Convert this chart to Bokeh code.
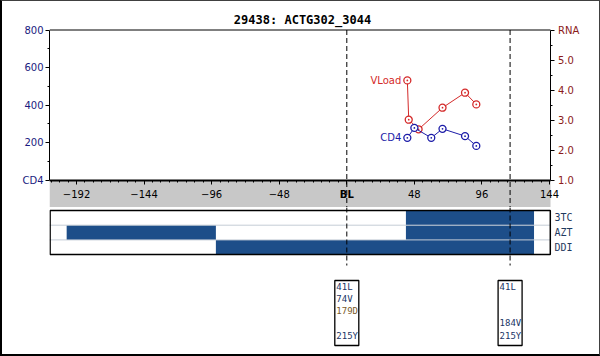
from bokeh.plotting import figure
from bokeh.layouts import column
from bokeh.models import (Range1d, LinearAxis, FixedTicker, BoxAnnotation,
                          ColumnDataSource, PrintfTickFormatter)
from bokeh.embed import file_html
from bokeh.resources import INLINE
from bokeh.core.properties import value

# ---------------- data ----------------
title_text = "29438: ACTG302_3044"
cd4_weeks = [43, 48, 60, 68, 84, 92]
cd4_values = [225, 278, 225, 273, 234, 182]
vl_weeks = [43, 44, 51, 68, 84, 92]
vl_values = [4.32, 3.01, 2.69, 3.41, 3.91, 3.52]
x_ticks = [-192, -144, -96, -48, 0, 48, 96, 144]
x_minor = list(range(-210, 145, 6))
cd4_ticks = [0, 200, 400, 600, 800]
cd4_minor = [100, 300, 500, 700]
rna_ticks = [1, 2, 3, 4, 5, 6]
rna_minor = [1.5, 2.5, 3.5, 4.5, 5.5]
genotype_weeks = [0, 116]
drug_names = ["3TC", "AZT", "DDI"]
bar_drug = ["3TC", "AZT", "AZT", "DDI"]
bar_start = [42, -199, 42, -93]
bar_end = [133, -93, 133, 133]
mut_week = [0, 0, 0, 0, 116, 116, 116]
mut_text = ["41L", "74V", "179D", "215Y", "41L", "184V", "215Y"]
mut_slot = [0, 1, 2, 4, 0, 3, 4]
mut_color = ["#1a3566", "#1a3566", "#7a5a2a", "#1a3566", "#1a3566", "#1a3566", "#1a3566"]

# ---------------- styling / geometry ----------------
BLUE = "#1c1ca8"
RED = "#d42a2a"
NAVY = "#1a1a80"
DRED = "#8b1a1a"
BAR = "#1d4e89"
LBL = "#1f3a5f"
GRAY = "#c8c8c8"
FONT = "DejaVu Sans"
MONO = "DejaVu Sans Mono"

PX0 = 346.3      # page x of week 0
S = 1.4077       # px per week
PLOT_L, PLOT_R = 49, 550      # visible chart box (page px)
FRAME_R = 590                 # drawing frame extends right so edge labels fit
FIG_W = 597
OFF_X = 2        # page x of figure left edge (border)
TOP_Y = 1        # page y of figure top (border)
BL_ = PLOT_L - OFF_X
BR_ = FIG_W - (FRAME_R - OFF_X)


def wk(px):
    return (px - PX0) / S


xr = Range1d(wk(PLOT_L), wk(FRAME_R))

# ---------------- main chart ----------------
cd4_px = 0.1875
Y0_PX = 179.5
yA0 = -(207 - Y0_PX) / cd4_px
yA1 = (Y0_PX - TOP_Y) / cd4_px
rA0 = 1 - (207 - Y0_PX) / 30.0
rA1 = 1 + (Y0_PX - TOP_Y) / 30.0


def cd4_at(py):
    return (Y0_PX - py) / cd4_px


p = figure(width=FIG_W, height=206, x_range=xr,
           y_range=Range1d(yA0, yA1), output_backend="svg", toolbar_location=None,
           x_axis_location=None, y_axis_location=None,
           min_border_left=BL_, min_border_right=BR_, min_border_top=0, min_border_bottom=0)
p.extra_y_ranges = {"rna": Range1d(rA0, rA1)}
p.outline_line_color = None
p.grid.visible = False

band = BoxAnnotation(top=-5, right=wk(PLOT_R), fill_color=GRAY, fill_alpha=1, line_alpha=0,
                     level="underlay")
p.add_layout(band)

yl = LinearAxis(ticker=FixedTicker(ticks=cd4_ticks, minor_ticks=cd4_minor), bounds=(0, 800),
                major_label_overrides={0: "CD4"})
yr = LinearAxis(y_range_name="rna", ticker=FixedTicker(ticks=rna_ticks, minor_ticks=rna_minor),
                bounds=(1, 6), formatter=PrintfTickFormatter(format="%.1f"),
                major_label_overrides={6: "RNA"}, fixed_location=wk(PLOT_R - 0.5))
xa = LinearAxis(ticker=FixedTicker(ticks=x_ticks, minor_ticks=x_minor), fixed_location=0,
                bounds=(wk(PLOT_L), wk(PLOT_R)), major_label_overrides={0: ""})
for ax, col in ((yl, NAVY), (yr, DRED), (xa, "black")):
    ax.major_label_text_color = col
    ax.major_label_text_font = FONT
    ax.major_label_text_font_size = "10px"
    ax.axis_line_color = "black"
    ax.major_tick_line_color = "black"
    ax.minor_tick_line_color = "black"
    ax.major_tick_in = 0
    ax.minor_tick_in = 0
    ax.major_tick_out = 4
    ax.minor_tick_out = 2
yl.major_label_standoff = 2
yr.major_label_standoff = 4
xa.axis_line_width = 2
xa.major_label_standoff = 6
p.add_layout(yl, "left")
p.add_layout(yr, "right")
p.add_layout(xa, "below")

# top edge of the chart box
p.segment(x0=[wk(PLOT_L)], x1=[wk(PLOT_R)], y0=[800], y1=[800], line_color="black",
          line_width=1)
# genotype (dashed) lines
p.segment(x0=genotype_weeks, x1=genotype_weeks, y0=[800] * 2, y1=[yA0] * 2,
          line_color="black", line_width=1, line_dash="5 3")

# title
p.text(x=[wk(302)], y=[cd4_at(19)], text=[title_text], text_align="center",
       text_baseline="middle", text_font=value(MONO), text_font_size="12px",
       text_font_style="bold", text_color="black")

p.text(x=[0], y=[cd4_at(193.5)], text=["BL"], text_align="center",
       text_baseline="middle", text_font=value(FONT), text_font_size="10px",
       text_font_style="bold", text_color="black")

cd4_src = ColumnDataSource(dict(x=cd4_weeks, y=cd4_values))
vl_src = ColumnDataSource(dict(x=vl_weeks, y=vl_values))
p.line("x", "y", source=vl_src, line_color=RED, line_width=1, y_range_name="rna")
p.scatter("x", "y", source=vl_src, marker="circle_dot", size=7, fill_color="white",
          line_color=RED, line_width=1.3, y_range_name="rna")
p.line("x", "y", source=cd4_src, line_color=BLUE, line_width=1)
p.scatter("x", "y", source=cd4_src, marker="circle_dot", size=7, fill_color="white",
          line_color=BLUE, line_width=1.3)
p.text(x=[vl_weeks[0]], y=[vl_values[0]], text=["VLoad"], x_offset=-6, text_align="right",
       text_baseline="middle", text_color=RED, text_font=value(FONT), text_font_size="10px",
       y_range_name="rna")
p.text(x=[cd4_weeks[0]], y=[cd4_values[0]], text=["CD4"], x_offset=-6, text_align="right",
       text_baseline="middle", text_color=BLUE, text_font=value(FONT), text_font_size="10px")

# ---------------- drugs + mutations ----------------
q = figure(width=FIG_W, height=147, x_range=xr,
           y_range=Range1d(354, 207), output_backend="svg", toolbar_location=None,
           x_axis_location=None, y_axis_location=None,
           min_border_left=BL_, min_border_right=BR_, min_border_top=0, min_border_bottom=0)
q.outline_line_color = None
q.grid.visible = False

panel_top = 210.0
row_h = 14.7
row_of = {d: i for i, d in enumerate(drug_names)}
row_centers = [panel_top + row_h * (i + 0.5) for i in range(len(drug_names))]
bar_src = ColumnDataSource(dict(
    left=bar_start, right=bar_end,
    top=[panel_top + row_h * row_of[d] for d in bar_drug],
    bottom=[panel_top + row_h * (row_of[d] + 1) for d in bar_drug]))
q.quad(left="left", right="right", top="top", bottom="bottom", source=bar_src,
       fill_color=BAR, line_color=None)
seps = [panel_top + row_h * i for i in range(1, len(drug_names))]
q.segment(x0=[wk(PLOT_L)] * len(seps), x1=[wk(PLOT_R)] * len(seps), y0=seps, y1=seps,
          line_color="#c4ccd6", line_width=1)
q.quad(left=[wk(PLOT_L + 0.6)], right=[wk(PLOT_R - 0.2)], top=[panel_top],
       bottom=[panel_top + row_h * len(drug_names)], fill_color=None,
       line_color="black", line_width=1.5)
q.text(x=[wk(PLOT_R + 4)] * len(drug_names), y=row_centers, text=drug_names,
       text_align="left", text_baseline="middle", text_color=LBL,
       text_font=value(MONO), text_font_size="10px")

q.segment(x0=genotype_weeks, x1=genotype_weeks, y0=[207] * 2, y1=[265] * 2,
          line_color="black", line_width=1, line_dash="5 3")
q.rect(x=genotype_weeks, y=[312.5] * 2, width=24, height=65, width_units="screen",
       height_units="screen", fill_color="white", line_color="black", line_width=1.3)
mut_src = ColumnDataSource(dict(x=mut_week, y=[286 + 12.25 * s for s in mut_slot],
                                t=mut_text, c=mut_color))
q.text(x="x", y="y", text="t", text_color="c", source=mut_src, x_offset=-10.5,
       text_align="left", text_baseline="middle", text_font=value(MONO),
       text_font_size="9px")

layout = column(p, q, styles={"border-left": "2px solid black",
                              "border-bottom": "2px solid black",
                              "border-top": "1px solid #404040",
                              "border-right": "1px solid #404040"})

open("out.html", "w").write(file_html(layout, INLINE))
